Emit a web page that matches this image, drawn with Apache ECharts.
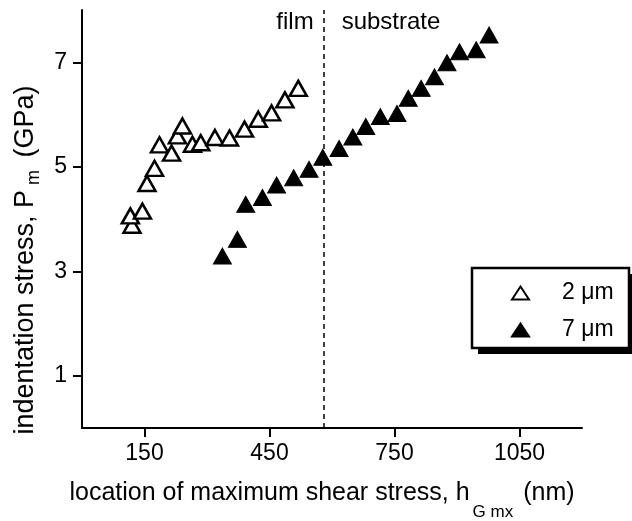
<!DOCTYPE html>
<html>
<head>
<meta charset="utf-8">
<script src="https://cdn.jsdelivr.net/npm/echarts@6/dist/echarts.min.js"></script>
<style>
  html, body { margin: 0; padding: 0; background: #fff; }
  #main { width: 632px; height: 521px; }
</style>
</head>
<body>
<div id="main"></div>
<script>
const font = "Liberation Sans";

// 2 um film (open triangles)
const film2X = [120, 116, 145, 156, 174, 186, 215, 229, 241, 265, 285, 319, 354, 390, 423, 455, 487, 519];
const film2Y = [3.88, 4.06, 4.15, 4.68, 4.97, 5.42, 5.26, 5.59, 5.78, 5.43, 5.46, 5.56, 5.55, 5.72, 5.91, 6.03, 6.28, 6.50];
// 7 um film (filled triangles)
const film7X = [337, 373, 393, 433, 467, 508, 545, 578, 617, 650, 681, 716, 756, 783, 814, 846, 876, 906, 946, 977];
const film7Y = [3.29, 3.61, 4.28, 4.41, 4.65, 4.79, 4.95, 5.18, 5.35, 5.57, 5.77, 5.96, 6.02, 6.31, 6.50, 6.72, 6.99, 7.20, 7.24, 7.52];

const xTicks = [150, 450, 750, 1050];
const yTicks = [1, 3, 5, 7];
const interfaceX = 580; // film / substrate boundary

const zip = (xs, ys) => xs.map((x, i) => [x, ys[i]]);

const chart = echarts.init(document.getElementById("main"));

const option = {
  backgroundColor: "#fff",
  animation: false,
  textStyle: { fontFamily: font, color: "#000" },
  grid: { left: 82, right: 50, top: 10, bottom: 93, outerBoundsMode: "none" },
  legend: {
    left: 472,
    top: 268,
    orient: "vertical",
    padding: [13, 12, 6, 39],
    itemGap: 13,
    itemWidth: 17,
    itemHeight: 13,
    textStyle: { fontFamily: font, fontSize: 23, color: "#000", padding: [0, 0, 0, 28], lineHeight: 24 },
    data: [
      { name: "2 μm", icon: "triangle" },
      { name: "7 μm", icon: "triangle" },
    ],
  },
  // legend frame with its solid drop shadow
  graphic: [
    { type: "rect", z: 1, shape: { x: 478, y: 274, width: 157, height: 80 }, style: { fill: "#000" } },
    { type: "rect", z: 2, shape: { x: 472, y: 268, width: 157, height: 80 }, style: { fill: "#fff", stroke: "#000", lineWidth: 2.5 } },
  ],
  xAxis: {
    type: "value",
    min: 0,
    max: 1200,
    splitLine: { show: false },
    axisLine: { lineStyle: { color: "#000", width: 2 } },
    axisTick: { customValues: xTicks, length: 9, lineStyle: { color: "#000", width: 2 } },
    axisLabel: { customValues: xTicks, fontSize: 23, color: "#000", margin: 14, fontFamily: font, formatter: (v) => String(v) },
    name: "location of maximum shear stress, h{sub|G mx} (nm)",
    nameLocation: "middle",
    nameGap: 38,
    nameTextStyle: {
      fontFamily: font,
      fontSize: 25,
      color: "#000",
      padding: [0, 20, 0, 0],
      rich: {
        sub: { fontFamily: font, fontSize: 17, color: "#000", padding: [38, 3, 0, 3], verticalAlign: "top" },
      },
    },
  },
  yAxis: {
    type: "value",
    min: 0,
    max: 8,
    splitLine: { show: false },
    axisLine: { lineStyle: { color: "#000", width: 2 } },
    axisTick: { customValues: yTicks, length: 9, lineStyle: { color: "#000", width: 2 } },
    axisLabel: { customValues: yTicks, fontSize: 23, color: "#000", margin: 15, fontFamily: font },
    name: "indentation stress, P{sub|m} (GPa)",
    nameLocation: "middle",
    nameGap: 27,
    nameRotate: 90,
    nameTextStyle: {
      fontFamily: font,
      fontSize: 27,
      color: "#000",
      padding: [0, 82, 0, 0],
      rich: {
        sub: { fontFamily: font, fontSize: 18, color: "#000", padding: [17, 5, 0, 5], verticalAlign: "top" },
      },
    },
  },
  series: [
    {
      name: "2 μm",
      type: "scatter",
      symbol: "triangle",
      symbolSize: [17, 15],
      itemStyle: { color: "#fff", borderColor: "#000", borderWidth: 2.5, opacity: 1 },
      data: zip(film2X, film2Y),
      markLine: {
        silent: true,
        symbol: "none",
        label: { show: false },
        lineStyle: { color: "#000", type: [5, 4], width: 1.5 },
        data: [{ xAxis: interfaceX }],
      },
    },
    {
      name: "7 μm",
      type: "scatter",
      symbol: "triangle",
      symbolSize: [18, 16],
      itemStyle: { color: "#000", borderColor: "#000", borderWidth: 1, opacity: 1 },
      data: zip(film7X, film7Y),
    },
  ],
};

chart.setOption(option);

// region labels either side of the interface line
const lineTop = chart.convertToPixel({ xAxisIndex: 0, yAxisIndex: 0 }, [interfaceX, 8]);
chart.setOption({
  graphic: [
    {},
    {},
    {
      type: "text",
      x: lineTop[0] - 10,
      y: lineTop[1] + 12,
      style: { text: "film", fontFamily: font, fontSize: 24, fill: "#000", align: "right", verticalAlign: "middle" },
    },
    {
      type: "text",
      x: lineTop[0] + 18,
      y: lineTop[1] + 12,
      style: { text: "substrate", fontFamily: font, fontSize: 24, fill: "#000", align: "left", verticalAlign: "middle" },
    },
  ],
});
</script>
</body>
</html>
